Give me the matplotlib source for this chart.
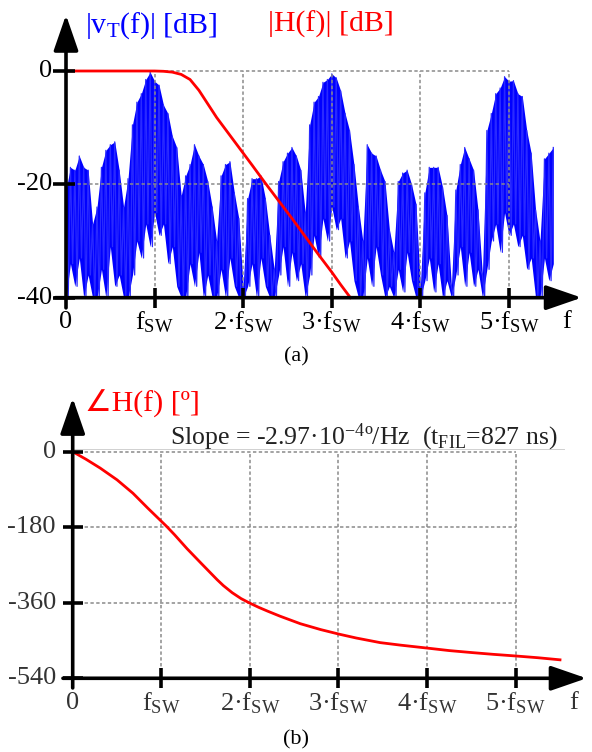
import numpy as np
import matplotlib
matplotlib.use('Agg')
import matplotlib.pyplot as plt

plt.rcParams['font.family'] = ['Liberation Serif', 'DejaVu Sans']
plt.rcParams['mathtext.fontset'] = 'custom'
plt.rcParams['mathtext.rm'] = 'Liberation Serif'
plt.rcParams['mathtext.it'] = 'Liberation Serif'

# ---- data (frequency in units of f_SW) ----
# spectrum |vT(f)|: spike tops and spike bottoms every 0.05 f_SW
spec_f = np.round(np.arange(0, 111) * 0.05, 3)
spec_top = [-21, -17, -17.5, -15, -17, -17.5, -27, -24, -17, -14,
            -13, -12.5, -17.5, -24, -19, -9.5, -5.5, -4, -1.5, -0.2,
            -1.8, -2.5, -6, -7.5, -11.5, -13.5, -22, -18.5, -16.5, -13,
            -15, -16.5, -19.5, -24, -30, -18.5, -16.5, -16, -21.5, -26,
            -38, -22.5, -19, -19, -18.5, -22.5, -29, -35, -19.5, -16,
            -14.5, -13.5, -15, -17.5, -25, -9.5, -5.5, -4.5, -2, -1.5,
            -0.5, -1.2, -3.5, -7.5, -10.5, -16.5, -24, -30, -13, -14.5,
            -15, -17.5, -19.5, -28, -32, -19.5, -18, -17.5, -20, -23.5,
            -38, -21.5, -17, -17, -17, -20.5, -25.5, -38, -21, -16.5,
            -13.5, -15.5, -17.5, -24.5, -36, -10.5, -7.5, -4, -3, -1,
            -1.8, -1.7, -4, -4.5, -10.5, -14.5, -24.5, -30, -15.5, -14.5,
            -13.5]
spec_bot = [-40, -34, -38, -33, -40, -36, -40, -40, -35, -40,
            -31, -38, -36, -40, -40, -36, -30, -33, -27, -31,
            -25, -29, -27, -34, -31, -38, -40, -40, -34, -38,
            -32, -40, -36, -40, -40, -35, -40, -33, -38, -40,
            -40, -38, -34, -40, -33, -38, -40, -40, -36, -31,
            -38, -32, -37, -34, -40, -36, -29, -33, -26, -30,
            -24, -28, -26, -33, -30, -37, -40, -40, -33, -38,
            -31, -36, -40, -38, -40, -35, -39, -32, -37, -40,
            -40, -37, -33, -39, -34, -40, -37, -40, -36, -31,
            -38, -32, -38, -35, -40, -35, -30, -27, -32, -25,
            -29, -27, -31, -29, -35, -33, -40, -40, -33, -37,
            -34]

# filter magnitude |H(f)| [dB]
hmag_f = [0, 1.0, 1.1, 1.2, 1.3, 1.4, 1.5, 1.6, 1.7, 1.8,
          1.9, 2.0, 2.1, 2.25, 2.4, 2.55, 2.7, 2.85, 3.0, 3.1, 3.21]
hmag_db = [0, 0, -0.05, -0.2, -0.6, -1.5, -3.4, -5.8, -8.2, -10.3,
           -12.4, -14.5, -16.6, -19.8, -22.9, -26, -29.2, -32.4, -35.5, -37.7, -40]

# filter phase [deg]
phase_f = [0, 0.15, 0.31, 0.5, 0.68, 0.85, 1.06, 1.15, 1.29, 1.45,
           1.63, 1.7, 1.8, 1.9, 2.0, 2.1, 2.2, 2.34, 2.57, 2.8,
           3.01, 3.2, 3.47, 3.7, 4.0, 4.25, 4.52, 4.75, 5.01, 5.25, 5.5]
phase_deg = [0, -18, -39, -67, -99, -135, -178, -198, -231, -266,
             -305, -319, -336, -350, -361, -371, -380, -392, -410, -424,
             -435, -444, -455, -461, -468, -474, -479, -483, -487, -491, -496]

harmonics = [1, 2, 3, 4, 5]
xtick_labels = ['f$_{\\mathrm{SW}}$', '2·f$_{\\mathrm{SW}}$', '3·f$_{\\mathrm{SW}}$',
                '4·f$_{\\mathrm{SW}}$', '5·f$_{\\mathrm{SW}}$']
mag_ticks = [0, -20, -40]
phase_ticks = [0, -180, -360, -540]

W, H = 592, 752
fig = plt.figure(figsize=(W / 100, H / 100), dpi=100)


def make_axes(x0, xs, y0, ys, xlim, ylim):
    # x0, y0: pixel position of data origin, xs, ys: pixels per unit
    left = x0 + xs * xlim[0]
    right = x0 + xs * xlim[1]
    top = y0 - ys * ylim[1]
    bottom = y0 - ys * ylim[0]
    ax = fig.add_axes([left / W, 1 - bottom / H, (right - left) / W, (bottom - top) / H])
    ax.set_xlim(xlim)
    ax.set_ylim(ylim)
    ax.set_axis_off()
    return ax


def arrow(ax, start, end):
    ax.annotate('', xy=end, xytext=start,
                arrowprops=dict(arrowstyle='-|>,head_length=1.1,head_width=0.38',
                                mutation_scale=20, lw=2.6, color='k',
                                shrinkA=0, shrinkB=0), zorder=6)


grid_kw = dict(color='#8a8a8a', lw=1.1, dashes=(2.2, 1.6), zorder=3)
FS = 19
TFS = 21.5

# ================= (a) magnitude =================
axa = make_axes(66, 88.6, 71, 5.667, (-0.75, 5.95), (-46, 12.5))

xs = np.empty(2 * len(spec_f))
ys = np.empty(2 * len(spec_f))
xs[0::2] = spec_f
xs[1::2] = spec_f + 0.025
ys[0::2] = spec_top
ys[1::2] = spec_bot
axa.fill_between(spec_f, spec_bot, spec_top, color='#0000ff', lw=0, zorder=2)
axa.plot(xs[:-1], ys[:-1], color='#2a2aff', lw=0.9, zorder=2)

for y in mag_ticks[:2]:
    axa.plot([0, 5], [y, y], **grid_kw)
for x in harmonics:
    axa.plot([x, x], [-40, 0], **grid_kw)

axa.plot(hmag_f, hmag_db, color='#ff0000', lw=2.0, zorder=5)

arrow(axa, (0, -41.8), (0, 9.9))
arrow(axa, (-0.12, -40), (5.82, -40))
for y in mag_ticks:
    axa.plot([-0.147, 0.1], [y, y], color='k', lw=2.6, zorder=6, solid_capstyle='butt')
    axa.text(-0.16, y, f'{y}', ha='right', va='center', fontsize=FS)
for x, lab in zip(harmonics, xtick_labels):
    axa.plot([x, x], [-38.3, -41.8], color='k', lw=2.6, zorder=6, solid_capstyle='butt')
    axa.text(x, -44.3, lab, ha='center', va='center', fontsize=FS)
axa.text(0, -44.3, '0', ha='center', va='center', fontsize=FS)
axa.text(5.65, -44.3, 'f', ha='center', va='center', fontsize=FS)

axa.text(0.22, 8.0, '|v$_{\\mathrm{T}}$(f)| [dB]', color='#0000ff', ha='left', va='center', fontsize=TFS)
axa.text(2.28, 8.2, '|H(f)| [dB]', color='#ff0000', ha='left', va='center', fontsize=TFS)
fig.text(296 / W, 1 - 357 / H, '(a)', ha='center', va='center', fontsize=16)

# ================= (b) phase =================
axb = make_axes(72.7, 88.6, 451.7, 0.4196, (-0.75, 5.95), (-650, 175))

for y in phase_ticks[:3]:
    axb.plot([0, 5], [y, y], **grid_kw)
for x in harmonics:
    axb.plot([x, x], [-540, 0], **grid_kw)
axb.plot([0, 5.55], [6.5, 6.5], color='#d0d0d0', lw=0.7, zorder=2)

axb.plot(phase_f, phase_deg, color='#ff0000', lw=2.0, zorder=5)

arrow(axb, (0, -563), (0, 128))
arrow(axb, (-0.11, -540), (5.8, -540))
for y in phase_ticks:
    axb.plot([-0.11, 0.116], [y, y], color='k', lw=2.6, zorder=6, solid_capstyle='butt')
    axb.text(-0.19, y, f'{y}', ha='right', va='center', fontsize=FS, color='#333333')
for x, lab in zip(harmonics, xtick_labels):
    axb.plot([x, x], [-515, -563], color='k', lw=2.6, zorder=6, solid_capstyle='butt')
    axb.text(x, -599, lab, ha='center', va='center', fontsize=FS, color='#333333')
axb.text(0, -599, '0', ha='center', va='center', fontsize=FS, color='#333333')
axb.text(5.65, -599, 'f', ha='center', va='center', fontsize=FS, color='#333333')

axb.text(0.14, 113, '∠H(f) [º]', color='#ff0000', ha='left', va='center', fontsize=TFS)
axb.text(1.1, 35, 'Slope = -2.97·10$^{\\mathrm{-4}}$º/Hz  (t$_{\\mathrm{FIL}}$=827 ns)',
         color='#222222', ha='left', va='center', fontsize=18.5)
fig.text(296 / W, 1 - 740 / H, '(b)', ha='center', va='center', fontsize=16)

fig.savefig('out.png', dpi=100)
